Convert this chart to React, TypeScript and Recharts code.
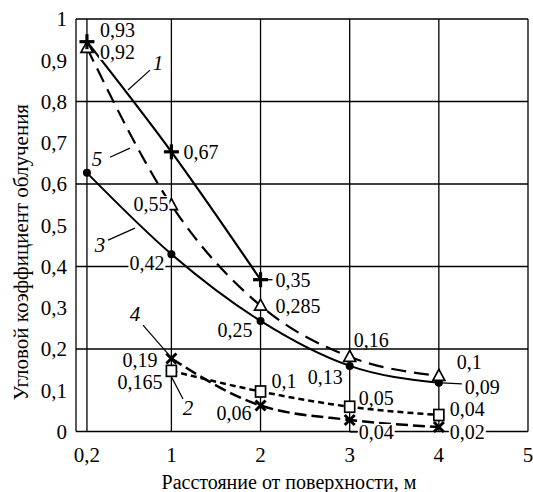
import React from 'react';
import {
  LineChart,
  Line,
  XAxis,
  YAxis,
  CartesianGrid,
  ReferenceLine,
  ReferenceDot,
  LabelList,
  Label,
} from 'recharts';

const FONT = "'Liberation Serif', 'DejaVu Serif', serif";

// ---- data ----
const xAll = [0.2, 1, 2, 3, 4];
const xFrom1 = [1, 2, 3, 4];
const xCurve1 = [0.2, 1, 2];

const curve1Y = [0.945, 0.678, 0.368];
const curve1Labels = ['0,93', '0,67', '0,35'];

const curve5Y = [0.93, 0.549, 0.305, 0.181, 0.135];
const curve5Labels = ['0,92', '0,55', '0,285', '0,16', '0,1'];

const curve3Y = [0.627, 0.43, 0.268, 0.159, 0.118];
const curve3Labels = ['', '0,42', '0,25', '0,13', '0,09'];

const curve2Y = [0.147, 0.097, 0.06, 0.04];
const curve2Labels = ['0,165', '0,1', '0,05', '0,04'];

const curve4Y = [0.177, 0.063, 0.028, 0.011];
const curve4Labels = ['0,19', '0,06', '0,04', '0,02'];

const xTicks = [0.2, 1, 2, 3, 4, 5];
const xTickLabels = ['0,2', '1', '2', '3', '4', '5'];
const yTicks = [0, 0.1, 0.2, 0.3, 0.4, 0.5, 0.6, 0.7, 0.8, 0.9, 1];
const gridY = [0, 0.2, 0.4, 0.6, 0.8, 1];
const gridX = [0.2, 1, 2, 3, 4, 5];

// the original axis stretches the 0.2–1 segment
const toAxis = (x: number) => (x < 1 ? 1 - (1 - x) * 1.184 : x);
const X_MIN = -0.07;

const build = (xs: number[], ys: number[], labels: string[]) =>
  xs.map((x, i) => ({ pos: toAxis(x), y: ys[i], label: labels[i] }));

// ---- label layout (pixel offsets from the point) ----
type Lay = { dx: number; dy: number; anchor: 'start' | 'end'; leader?: [number, number, number, number] };
const lay1: Lay[] = [
  { dx: 13, dy: -12, anchor: 'start' },
  { dx: 12, dy: 0, anchor: 'start' },
  { dx: 15, dy: 0, anchor: 'start', leader: [6, 0, 12, 0] },
];
const lay5: Lay[] = [
  { dx: 13, dy: 4, anchor: 'start' },
  { dx: -3, dy: -1, anchor: 'end' },
  { dx: 15, dy: 0, anchor: 'start' },
  { dx: 4, dy: -17, anchor: 'start' },
  { dx: 18, dy: -14, anchor: 'start' },
];
const lay3: Lay[] = [
  { dx: 0, dy: 0, anchor: 'start' },
  { dx: -7, dy: 9, anchor: 'end' },
  { dx: -8, dy: 9, anchor: 'end' },
  { dx: -7, dy: 11, anchor: 'end' },
  { dx: 26, dy: 4, anchor: 'start', leader: [3, 0, 23, 1] },
];
const lay2: Lay[] = [
  { dx: -9, dy: 11, anchor: 'end' },
  { dx: 11, dy: -10, anchor: 'start' },
  { dx: 9, dy: -9, anchor: 'start' },
  { dx: 11, dy: -6, anchor: 'start' },
];
const lay4: Lay[] = [
  { dx: -14, dy: 2, anchor: 'end' },
  { dx: -9, dy: 7, anchor: 'end' },
  { dx: 9, dy: 12, anchor: 'start', leader: [0, 12, 8, 12] },
  { dx: 11, dy: 5, anchor: 'start' },
];

// curve numbers with leader lines (data coordinates)
const curveNames = [
  { name: '1', x: 0.873, y: 0.893, from: [0.797, 0.876], to: [0.589, 0.828] },
  { name: '5', x: 0.296, y: 0.661, from: [0.418, 0.665], to: [0.608, 0.687] },
  { name: '3', x: 0.324, y: 0.452, from: [0.4, 0.464], to: [0.655, 0.493] },
  { name: '4', x: 0.655, y: 0.285, from: [0.731, 0.258], to: [0.968, 0.188] },
  { name: '2', x: 1.186, y: 0.057, from: [1.007, 0.13], to: [1.13, 0.079] },
];

const FS = 20;
const textWidth = (s: string) =>
  s.split('').reduce((w, c) => w + (c === ',' ? 0.25 : 0.5), 0) * FS;

const makeLabel = (layout: Lay[]) => (props: any) => {
  const { x, y, value, index } = props;
  if (!value || x == null || y == null) return null;
  const l = layout[index];
  const tx = x + l.dx;
  const ty = y + l.dy;
  const w = textWidth(String(value));
  const rx = l.anchor === 'start' ? tx - 1 : tx - w - 1;
  return (
    <g key={`lab-${index}-${value}`}>
      <rect x={rx} y={ty - 8} width={w + 2} height={16} fill="#fff" />
      {l.leader && (
        <line
          x1={x + l.leader[0]}
          y1={y + l.leader[1]}
          x2={x + l.leader[2]}
          y2={y + l.leader[3]}
          stroke="#000"
          strokeWidth={1.3}
        />
      )}
      <text
        x={tx}
        y={ty}
        textAnchor={l.anchor}
        dominantBaseline="central"
        style={{ fontFamily: FONT, fontSize: FS }}
        fill="#000"
      >
        {value}
      </text>
    </g>
  );
};

type Shape = 'plus' | 'triangle' | 'circle' | 'cross' | 'square';
const makeDot = (shape: Shape) => (p: any) => {
  const { cx, cy, index } = p;
  const key = `dot-${shape}-${index}`;
  if (cx == null || cy == null) return <g key={key} />;
  switch (shape) {
    case 'plus':
      return (
        <g key={key} stroke="#000" strokeWidth={3.2}>
          <line x1={cx - 7.5} y1={cy} x2={cx + 7.5} y2={cy} />
          <line x1={cx} y1={cy - 7.5} x2={cx} y2={cy + 7.5} />
        </g>
      );
    case 'triangle':
      return (
        <polygon
          key={key}
          points={`${cx},${cy - 6.5} ${cx - 6},${cy + 4.5} ${cx + 6},${cy + 4.5}`}
          fill="#fff"
          stroke="#000"
          strokeWidth={1.7}
        />
      );
    case 'circle':
      return <circle key={key} cx={cx} cy={cy} r={4} fill="#000" />;
    case 'cross':
      return (
        <g key={key} stroke="#000" strokeWidth={3}>
          <line x1={cx - 5} y1={cy - 5} x2={cx + 5} y2={cy + 5} />
          <line x1={cx - 5} y1={cy + 5} x2={cx + 5} y2={cy - 5} />
        </g>
      );
    default:
      return (
        <rect key={key} x={cx - 5} y={cy - 5.5} width={10} height={11} fill="#fff" stroke="#000" strokeWidth={1.7} />
      );
  }
};

export default function App() {
  return (
    <div style={{ position: 'absolute', left: 0, top: 0, background: '#fff', fontFamily: FONT }}>
      <LineChart width={533} height={492} margin={{ top: 19, right: 5, bottom: 0, left: 0 }}>
        <CartesianGrid stroke="#000" strokeWidth={1.3} xAxisId="grid" horizontal={false} />
        <XAxis
          xAxisId="grid"
          type="number"
          dataKey="pos"
          domain={[X_MIN, 5]}
          allowDataOverflow
          ticks={[X_MIN, ...gridX.map(toAxis)]}
          interval={0}
          hide
        />
        {gridY.map((v) => (
          <ReferenceLine key={`gy-${v}`} y={v} stroke="#000" strokeWidth={1.3} />
        ))}
        <XAxis
          dataKey="pos"
          type="number"
          domain={[X_MIN, 5]}
          allowDataOverflow
          ticks={xTicks.map(toAxis)}
          tickFormatter={(_v: number, i: number) => xTickLabels[i]}
          interval={0}
          height={60.5}
          tickLine={false}
          axisLine={false}
          tickSize={0}
          tickMargin={16}
          tick={{ fontFamily: FONT, fontSize: 21, fill: '#000' }}
        >
          <Label
            content={(p: any) => {
              const vb = p.viewBox;
              return (
                <text
                  x={289}
                  y={vb.y + 57}
                  textAnchor="middle"
                  style={{ fontFamily: FONT, fontSize: 20 }}
                  fill="#000"
                >
                  Расстояние от поверхности, м
                </text>
              );
            }}
          />
        </XAxis>
        <YAxis
          type="number"
          domain={[0, 1]}
          ticks={yTicks}
          interval={0}
          width={76}
          tickLine={false}
          axisLine={false}
          tickSize={0}
          tickMargin={9}
          tickFormatter={(v: number) => (v === 0 ? '0' : v === 1 ? '1' : v.toFixed(1).replace('.', ','))}
          tick={{ fontFamily: FONT, fontSize: 21, fill: '#000' }}
        >
          <Label
            content={(p: any) => {
              const vb = p.viewBox;
              const cx = 21;
              const cy = vb.y + vb.height / 2 + 27;
              return (
                <text
                  x={cx}
                  y={cy}
                  transform={`rotate(-90, ${cx}, ${cy})`}
                  textAnchor="middle"
                  dominantBaseline="central"
                  style={{ fontFamily: FONT, fontSize: 21 }}
                  fill="#000"
                >
                  Угловой коэффициент облучения
                </text>
              );
            }}
          />
        </YAxis>

        <Line
          data={build(xAll, curve3Y, curve3Labels)}
          dataKey="y"
          type="monotone"
          stroke="#000"
          strokeWidth={2}
          dot={makeDot('circle')}
          isAnimationActive={false}
        >
          <LabelList dataKey="label" content={makeLabel(lay3)} />
        </Line>
        <Line
          data={build(xAll, curve5Y, curve5Labels)}
          dataKey="y"
          type="monotone"
          stroke="#000"
          strokeWidth={2.2}
          strokeDasharray="15 8"
          dot={makeDot('triangle')}
          isAnimationActive={false}
        >
          <LabelList dataKey="label" content={makeLabel(lay5)} />
        </Line>
        <Line
          data={build(xCurve1, curve1Y, curve1Labels)}
          dataKey="y"
          type="monotone"
          stroke="#000"
          strokeWidth={2.2}
          dot={makeDot('plus')}
          isAnimationActive={false}
        >
          <LabelList dataKey="label" content={makeLabel(lay1)} />
        </Line>
        <Line
          data={build(xFrom1, curve2Y, curve2Labels)}
          dataKey="y"
          type="monotone"
          stroke="#000"
          strokeWidth={2.5}
          strokeDasharray="6 4"
          dot={makeDot('square')}
          isAnimationActive={false}
        >
          <LabelList dataKey="label" content={makeLabel(lay2)} />
        </Line>
        <Line
          data={build(xFrom1, curve4Y, curve4Labels)}
          dataKey="y"
          type="monotone"
          stroke="#000"
          strokeWidth={2.5}
          strokeDasharray="12 5"
          dot={makeDot('cross')}
          isAnimationActive={false}
        >
          <LabelList dataKey="label" content={makeLabel(lay4)} />
        </Line>

        {curveNames.map((c) => (
          <ReferenceLine
            key={`leader-${c.name}`}
            segment={[
              { x: toAxis(c.from[0]), y: c.from[1] },
              { x: toAxis(c.to[0]), y: c.to[1] },
            ]}
            stroke="#000"
            strokeWidth={1.2}
          />
        ))}
        {curveNames.map((c) => (
          <ReferenceDot
            key={`name-${c.name}`}
            x={toAxis(c.x)}
            y={c.y}
            r={0}
            fill="none"
            stroke="none"
            label={(p: any) => {
              const vb = p.viewBox;
              const x = vb.x + (vb.width || 0) / 2;
              const y = vb.y + (vb.height || 0) / 2;
              return (
                <text
                  x={x}
                  y={y}
                  textAnchor="middle"
                  dominantBaseline="central"
                  style={{ fontFamily: FONT, fontSize: 21, fontStyle: 'italic' }}
                  fill="#000"
                >
                  {c.name}
                </text>
              );
            }}
          />
        ))}
      </LineChart>
    </div>
  );
}
